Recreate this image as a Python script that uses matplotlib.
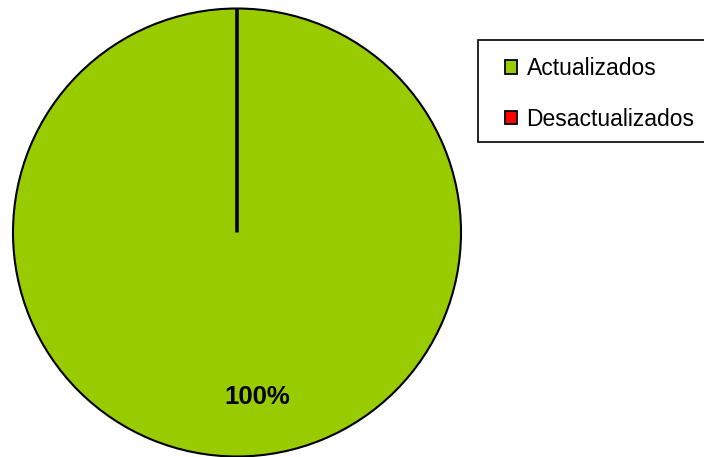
import matplotlib
matplotlib.use("Agg")
import matplotlib.pyplot as plt
from matplotlib.patches import Patch, Rectangle

plt.rcParams['font.family'] = ['Liberation Sans', 'DejaVu Sans']

categories = ["Actualizados", "Desactualizados"]
values = [100, 0]
colors = ["#99CC00", "#FF0000"]

W, H = 704, 457
fig = plt.figure(figsize=(W / 100, H / 100), dpi=100)
cx, cy, r = 237, 457 - 232.5, 224
ax = fig.add_axes([(cx - r) / W, (cy - r) / H, 2 * r / W, 2 * r / H])

def fmt(p):
    return f"{p:.0f}%" if p > 0 else ""

wedges, texts, autotexts = ax.pie(values, colors=colors, startangle=90, counterclock=False,
                                  autopct=fmt, radius=1,
                                  wedgeprops=dict(edgecolor="black", linewidth=1.5))
wedges[1].set_linewidth(2.6)
for t in autotexts:
    t.set_fontsize(18.5)
    t.set_fontweight("bold")
    t.set_position((0.09, -0.735))
ax.set_xlim(-1, 1)
ax.set_ylim(-1, 1)
ax.set_aspect("equal")
ax.axis("off")

# legend frame
fig.patches.append(Rectangle((478 / W, 1 - 142 / H), 250 / W, 102 / H,
                             transform=fig.transFigure, facecolor="white",
                             edgecolor="black", linewidth=1.2, zorder=1))

handles = [Patch(facecolor=c, edgecolor="black", linewidth=1.3) for c in colors]
leg = fig.legend(handles, categories, loc="upper left",
                 bbox_to_anchor=(505 / W, 1 - 57 / H), fontsize=16.5,
                 frameon=False,
                 handlelength=0.52, handleheight=0.52, handletextpad=0.42,
                 labelspacing=1.2, borderpad=0, borderaxespad=0)
leg.set_zorder(2)

fig.savefig("out.png", dpi=100)
